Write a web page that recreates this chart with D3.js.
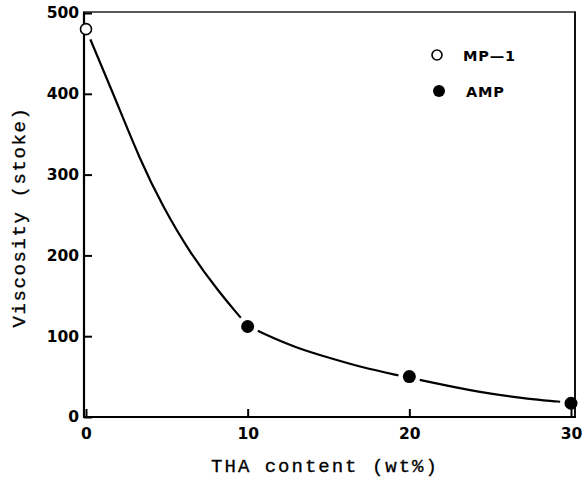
<!DOCTYPE html>
<html>
<head>
<meta charset="utf-8">
<script src="https://cdn.jsdelivr.net/npm/d3@7/dist/d3.min.js"></script>
<style>
  html, body { margin: 0; padding: 0; background: #fff; }
  svg { display: block; }
</style>
</head>
<body>
<script>
// Data
const xTicks = [0, 10, 20, 30];
const yTicks = [0, 100, 200, 300, 400, 500];
const mp1X = [0];
const mp1Y = [480];
const ampX = [10, 20, 30];
const ampY = [112, 50, 17];
const curveX = [0, 1.67, 3.34, 4.76, 6.43, 8.29, 9.52, 10, 10.76, 13.05, 15.09, 17.13, 19.23, 20.6, 24.4, 27.5, 29.4, 30];
const curveY = [480, 401, 318, 260, 203, 153, 124, 113, 105, 85, 73, 61, 52, 46, 30, 22, 19, 17];
const legendLabels = ["MP\u20141", "AMP"];
const xTitle = "THA content (wt%)";
const yTitle = "Viscosity (stoke)";

const W = 583, H = 480;
const svg = d3.select("body").append("svg").attr("width", W).attr("height", H);

const x = d3.scaleLinear().domain([0, 30]).range([86, 571]);
const y = d3.scaleLinear().domain([0, 500]).range([417, 13]);

const axisColor = "#000";
const tickFont = "DejaVu Sans, Arial, sans-serif";

// Curve
const pts = curveX.map((d, i) => [d, curveY[i]]);
const line = d3.line().x(d => x(d[0])).y(d => y(d[1])).curve(d3.curveBasis);
svg.append("path").attr("d", line(pts)).attr("fill", "none")
  .attr("stroke", "#000").attr("stroke-width", 2.2);

// White halos to create gaps
const allPts = mp1X.map((d, i) => [d, mp1Y[i]]).concat(ampX.map((d, i) => [d, ampY[i]]));
svg.selectAll("circle.halo").data(allPts).enter().append("circle")
  .attr("class", "halo")
  .attr("cx", d => x(d[0])).attr("cy", d => y(d[1])).attr("r", 11).attr("fill", "#fff");

// Frame: top and right
svg.append("line").attr("x1", 83).attr("x2", 576).attr("y1", 12).attr("y2", 12)
  .attr("stroke", "#222").attr("stroke-width", 1.6);
svg.append("line").attr("x1", 575).attr("x2", 575).attr("y1", 12).attr("y2", 418)
  .attr("stroke", "#111").attr("stroke-width", 2);

// Left axis
const yAxis = d3.axisLeft(y).tickValues(yTicks).tickSizeInner(-8).tickSizeOuter(0).tickPadding(14);
const gy = svg.append("g").attr("transform", "translate(84,0)").call(yAxis);
gy.select(".domain").attr("stroke", axisColor).attr("stroke-width", 2.2).attr("d", `M0,${y(500)-1}V${y(0)+1}`);
gy.selectAll(".tick line").attr("stroke", axisColor).attr("stroke-width", 2);
gy.selectAll(".tick text").attr("font-family", tickFont)
  .attr("font-weight", "bold").attr("font-size", 15.5).attr("fill", "#000").attr("x", -5);

// Bottom axis
const xAxis = d3.axisBottom(x).tickValues(xTicks).tickSizeInner(-8).tickSizeOuter(0).tickPadding(11);
const gx = svg.append("g").attr("transform", "translate(0,417)").call(xAxis);
gx.select(".domain").attr("stroke", axisColor).attr("stroke-width", 2.2).attr("d", `M83,0H576`);
gx.selectAll(".tick line").attr("stroke", axisColor).attr("stroke-width", 2);
gx.selectAll(".tick text").attr("font-family", tickFont)
  .attr("font-weight", "bold").attr("font-size", 15.5).attr("fill", "#000");

// Markers
svg.selectAll("circle.mp1").data(mp1X.map((d, i) => [d, mp1Y[i]])).enter().append("circle")
  .attr("class", "mp1")
  .attr("cx", d => x(d[0])).attr("cy", d => y(d[1])).attr("r", 5.5)
  .attr("fill", "#fff").attr("stroke", "#000").attr("stroke-width", 1.6);
svg.selectAll("circle.amp").data(ampX.map((d, i) => [d, ampY[i]])).enter().append("circle")
  .attr("class", "amp")
  .attr("cx", d => x(d[0])).attr("cy", d => y(d[1])).attr("r", 6.5)
  .attr("fill", "#000");

// Legend
const lg = svg.append("g");
lg.append("circle").attr("cx", 437).attr("cy", 55).attr("r", 5)
  .attr("fill", "#fff").attr("stroke", "#000").attr("stroke-width", 1.6);
lg.append("circle").attr("cx", 439).attr("cy", 91).attr("r", 6).attr("fill", "#000");
lg.selectAll("text").data(legendLabels).enter().append("text")
  .attr("x", (d, i) => i === 0 ? 463 : 466).attr("y", (d, i) => i === 0 ? 61 : 97)
  .attr("font-family", tickFont).attr("font-weight", "bold")
  .attr("font-size", 14.5).attr("letter-spacing", 0.8).attr("fill", "#000").text(d => d);

// Axis titles
svg.append("text").attr("x", 325).attr("y", 472).attr("text-anchor", "middle")
  .attr("font-family", "Liberation Mono, Courier New, monospace")
  .attr("font-size", 19).attr("letter-spacing", 2).attr("fill", "#000").attr("stroke", "#000").attr("stroke-width", 0.3)
  .text(xTitle);
svg.append("text").attr("transform", "translate(25,217) rotate(-90)").attr("text-anchor", "middle")
  .attr("font-family", "Liberation Mono, Courier New, monospace")
  .attr("font-size", 19).attr("letter-spacing", 1.6).attr("fill", "#000").attr("stroke", "#000").attr("stroke-width", 0.3)
  .text(yTitle);
</script>
</body>
</html>
